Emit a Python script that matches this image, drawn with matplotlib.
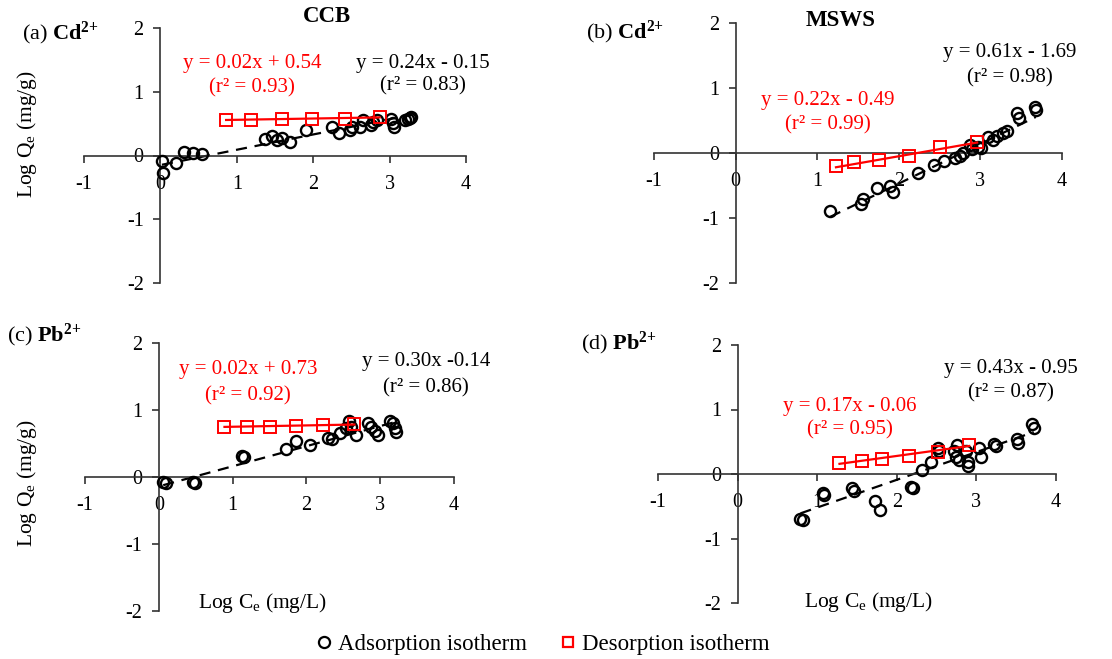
import matplotlib
matplotlib.use("Agg")
import matplotlib.pyplot as plt
from matplotlib.lines import Line2D
import numpy as np

plt.rcParams['font.family'] = ['Liberation Serif', 'DejaVu Serif']
plt.rcParams['mathtext.fontset'] = 'custom'
plt.rcParams['mathtext.rm'] = 'Liberation Serif'
plt.rcParams['mathtext.it'] = 'Liberation Serif:italic'
plt.rcParams['mathtext.bf'] = 'Liberation Serif:bold'
plt.rcParams['axes.unicode_minus'] = False

# (a) Cd2+ on CCB
a_ads_x = [0.02, 0.03, 0.20, 0.31, 0.43, 0.55, 1.37, 1.46, 1.52, 1.59, 1.69, 1.90, 2.24, 2.34,
           2.48, 2.51, 2.61, 2.65, 2.76, 2.78, 2.83, 3.02, 3.04, 3.06, 3.20, 3.24, 3.27, 3.28]
a_ads_y = [-0.09, -0.28, -0.11, 0.05, 0.04, 0.03, 0.26, 0.30, 0.25, 0.28, 0.21, 0.40, 0.44, 0.35,
           0.40, 0.44, 0.44, 0.55, 0.48, 0.53, 0.56, 0.58, 0.51, 0.45, 0.56, 0.58, 0.59, 0.61]
a_des_x = [0.86, 1.19, 1.59, 1.99, 2.41, 2.87]
a_des_y = [0.56, 0.56, 0.57, 0.57, 0.58, 0.60]

# (b) Cd2+ on MSWS
b_ads_x = [1.16, 1.54, 1.56, 1.73, 1.89, 1.93, 2.24, 2.43, 2.56, 2.69, 2.75, 2.79, 2.87, 2.90,
           2.97, 3.01, 3.09, 3.16, 3.20, 3.28, 3.32, 3.45, 3.47, 3.67, 3.68]
b_ads_y = [-0.89, -0.78, -0.71, -0.54, -0.51, -0.60, -0.30, -0.18, -0.12, -0.07, -0.05, 0.00, 0.13, 0.06,
           0.10, 0.08, 0.24, 0.20, 0.26, 0.31, 0.34, 0.61, 0.54, 0.71, 0.66]
b_des_x = [1.23, 1.45, 1.76, 2.13, 2.51, 2.96]
b_des_y = [-0.20, -0.14, -0.10, -0.04, 0.09, 0.17]

# (c) Pb2+ on CCB
c_ads_x = [0.06, 0.10, 0.47, 0.49, 1.13, 1.16, 1.73, 1.86, 2.05, 2.29, 2.35, 2.45, 2.54, 2.58,
           2.61, 2.67, 2.84, 2.88, 2.93, 2.97, 3.13, 3.17, 3.20, 3.22]
c_ads_y = [-0.075, -0.085, -0.075, -0.09, 0.31, 0.30, 0.42, 0.54, 0.48, 0.58, 0.56, 0.65, 0.73, 0.83,
           0.75, 0.63, 0.81, 0.75, 0.68, 0.63, 0.83, 0.80, 0.73, 0.67]
c_des_x = [0.89, 1.19, 1.50, 1.86, 2.23, 2.65]
c_des_y = [0.75, 0.75, 0.75, 0.76, 0.77, 0.785]

# (d) Pb2+ on MSWS
d_ads_x = [0.79, 0.82, 1.07, 1.08, 1.44, 1.46, 1.72, 1.79, 2.18, 2.20, 2.32, 2.43, 2.52, 2.53, 2.72,
           2.76, 2.74, 2.78, 2.87, 2.89, 2.90, 3.03, 3.06, 3.22, 3.24, 3.51, 3.52, 3.70, 3.72]
d_ads_y = [-0.69, -0.71, -0.29, -0.32, -0.22, -0.26, -0.42, -0.56, -0.20, -0.22, 0.06, 0.19, 0.40, 0.35, 0.35,
           0.45, 0.27, 0.22, 0.35, 0.19, 0.13, 0.40, 0.27, 0.47, 0.43, 0.55, 0.48, 0.77, 0.71]
d_des_x = [1.28, 1.56, 1.82, 2.15, 2.52, 2.91]
d_des_y = [0.175, 0.196, 0.237, 0.278, 0.345, 0.45]

# fitted lines: (slope, intercept, r2)
ads_fit = {'a': (0.24, -0.15, 0.83), 'b': (0.61, -1.69, 0.98), 'c': (0.30, -0.14, 0.86), 'd': (0.43, -0.95, 0.87)}
des_fit = {'a': (0.02, 0.54, 0.93), 'b': (0.22, -0.49, 0.99), 'c': (0.02, 0.73, 0.92), 'd': (0.17, -0.06, 0.95)}
ads_eq_text = {'a': 'y = 0.24x - 0.15', 'b': 'y = 0.61x - 1.69', 'c': 'y = 0.30x -0.14', 'd': 'y = 0.43x - 0.95'}
des_eq_text = {'a': 'y = 0.02x + 0.54', 'b': 'y = 0.22x - 0.49', 'c': 'y = 0.02x + 0.73', 'd': 'y = 0.17x - 0.06'}

W, H = 1112, 659
fig = plt.figure(figsize=(W / 100, H / 100), dpi=100)


def px_rect(x0, x1, y0, y1):
    return [x0 / W, 1 - y1 / H, (x1 - x0) / W, (y1 - y0) / H]


def fig_px(x, y):
    return x / W, 1 - y / H


AX_COL = '#333333'
RED = '#ff0000'
FS = 15

panels = {
    'a': dict(rect=px_rect(84, 466, 28, 283), ads=(a_ads_x, a_ads_y), des=(a_des_x, a_des_y),
              ads_txt=(3.43, 1.45, 1.09), des_txt=(1.2, 1.45, 1.06), xlabel=None),
    'b': dict(rect=px_rect(654, 1062, 23, 283), ads=(b_ads_x, b_ads_y), des=(b_des_x, b_des_y),
              ads_txt=(3.36, 1.55, 1.16), des_txt=(1.13, 0.81, 0.43), xlabel=None),
    'c': dict(rect=px_rect(85, 454, 343, 611), ads=(c_ads_x, c_ads_y), des=(c_des_x, c_des_y),
              ads_txt=(3.62, 1.72, 1.33), des_txt=(1.21, 1.60, 1.21), xlabel=(1.41, -1.88)),
    'd': dict(rect=px_rect(658, 1056, 345, 603), ads=(d_ads_x, d_ads_y), des=(d_des_x, d_des_y),
              ads_txt=(3.43, 1.64, 1.26), des_txt=(1.41, 1.05, 0.68), xlabel=(1.65, -1.98)),
}

for key, p in panels.items():
    ax = fig.add_axes(p['rect'])
    ax.set_xlim(-1, 4)
    ax.set_ylim(-2, 2)
    for s in ['top', 'right']:
        ax.spines[s].set_visible(False)
    for s in ['left', 'bottom']:
        ax.spines[s].set_position('zero')
        ax.spines[s].set_color(AX_COL)
        ax.spines[s].set_linewidth(1.2)
    ax.set_xticks([-1, 0, 1, 2, 3, 4])
    ax.set_yticks([-2, -1, 0, 1, 2])
    ax.tick_params(direction='out', length=5, width=1.2, color=AX_COL, labelsize=14.5)
    ax.tick_params(axis='x', pad=9)
    ax.tick_params(axis='y', pad=7)
    ax.patch.set_visible(False)

    ax_x, ax_y = p['ads']
    m, c, r2 = ads_fit[key]
    xx = np.array([min(ax_x), max(ax_x)])
    ax.plot(xx, m * xx + c, color='black', lw=1.6, dashes=(5, 3.5), zorder=2)
    ax.plot(ax_x, ax_y, 'o', ms=8, mfc='none', mec='black', mew=1.7, zorder=3, clip_on=False)

    dx, dy = p['des']
    m2, c2, r2b = des_fit[key]
    xx2 = np.array([min(dx), max(dx)])
    ax.plot(xx2, m2 * xx2 + c2, color=RED, lw=1.6, zorder=4)
    ax.plot(dx, dy, 's', ms=8, mfc='none', mec=RED, mew=1.4, zorder=5)

    tx, ty1, ty2 = p['ads_txt']
    ax.text(tx, ty1, ads_eq_text[key], ha='center', va='center', fontsize=FS, color='black')
    ax.text(tx, ty2, '(r² = %.2f)' % r2, ha='center', va='center', fontsize=FS, color='black')
    tx, ty1, ty2 = p['des_txt']
    ax.text(tx, ty1, des_eq_text[key], ha='center', va='center', fontsize=FS, color=RED)
    ax.text(tx, ty2, '(r² = %.2f)' % r2b, ha='center', va='center', fontsize=FS, color=RED)

    if p['xlabel'] is not None:
        ax.text(p['xlabel'][0], p['xlabel'][1], r'Log C$_\mathrm{e}$ (mg/L)', ha='center', va='center',
                fontsize=15.5)

# panel labels, column titles and y labels
LFS = 16
fig.text(*fig_px(22, 33), r'(a) $\mathbf{Cd^{2{+}}}$', ha='left', va='center', fontsize=LFS)
fig.text(*fig_px(586, 32), r'(b) $\mathbf{Cd^{2{+}}}$', ha='left', va='center', fontsize=LFS)
fig.text(*fig_px(7, 335), r'(c) $\mathbf{Pb^{2{+}}}$', ha='left', va='center', fontsize=LFS)
fig.text(*fig_px(581, 343), r'(d) $\mathbf{Pb^{2{+}}}$', ha='left', va='center', fontsize=LFS)
fig.text(*fig_px(327, 17), 'CCB', ha='center', va='center', fontsize=16.5, fontweight='bold')
fig.text(*fig_px(841, 20), 'MSWS', ha='center', va='center', fontsize=16.5, fontweight='bold')
for yy in [134, 483]:
    fig.text(*fig_px(27, yy), r'Log Q$_\mathrm{e}$ (mg/g)', ha='center', va='center',
             rotation=90, fontsize=15.5)

handles = [Line2D([], [], ls='none', marker='o', ms=8, mfc='none', mec='black', mew=1.6),
           Line2D([], [], ls='none', marker='s', ms=7, mfc='none', mec=RED, mew=1.6)]
fig.legend(handles, ['Adsorption isotherm', 'Desorption isotherm'], loc='center',
           bbox_to_anchor=fig_px(541, 644), ncol=2, frameon=False, fontsize=16.5,
           handletextpad=0.1, columnspacing=1.3, handlelength=1.0)

fig.savefig('out.png', dpi=100)
